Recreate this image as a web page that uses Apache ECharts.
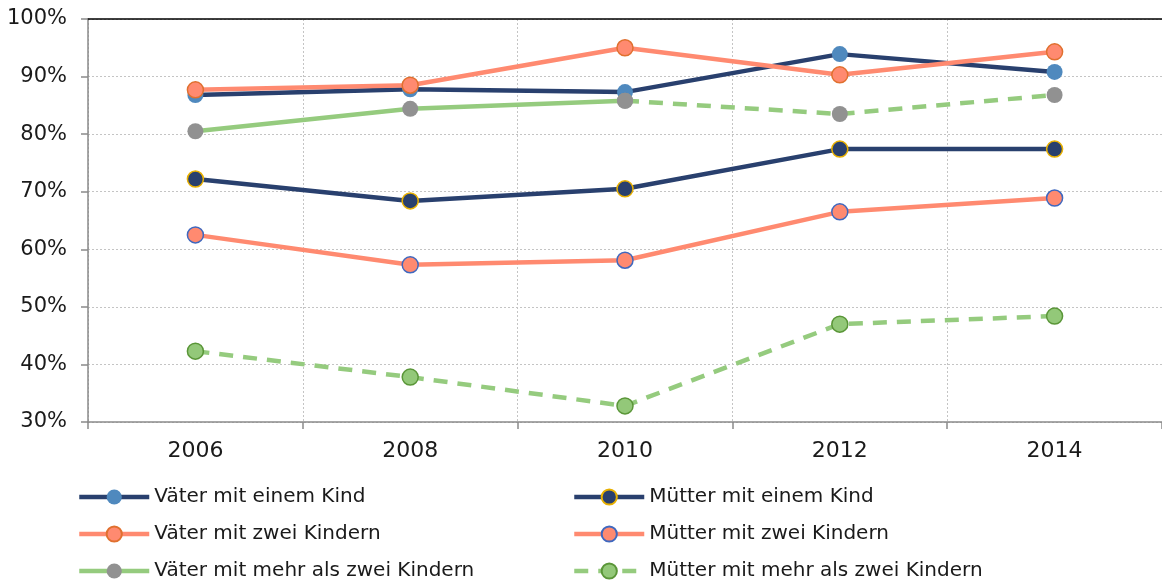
<!DOCTYPE html>
<html>
<head>
<meta charset="utf-8">
<script src="https://cdn.jsdelivr.net/npm/echarts@6/dist/echarts.min.js"></script>
<style>html,body{margin:0;padding:0;background:#fff}#c{width:1162px;height:583px}</style>
</head>
<body>
<div id="c"></div>
<script>
var years = ['2006', '2008', '2010', '2012', '2014'];
var yTicks = [30, 40, 50, 60, 70, 80, 90, 100];
var vaterEins = [86.8, 87.8, 87.3, 93.9, 90.8];
var vaterZwei = [87.7, 88.5, 95.0, 90.3, 94.3];
var vaterMehrSolid = [80.5, 84.4, 85.8, '-', '-'];
var vaterMehrDashed = ['-', '-', 85.8, 83.5, 86.8];
var mutterEins = [72.2, 68.4, 70.5, 77.4, 77.4];
var mutterZwei = [62.5, 57.3, 58.1, 66.5, 68.9];
var mutterMehr = [42.3, 37.8, 32.8, 47.0, 48.4];
var names = ['Väter mit einem Kind', 'Väter mit zwei Kindern', 'Väter mit mehr als zwei Kindern',
             'Mütter mit einem Kind', 'Mütter mit zwei Kindern', 'Mütter mit mehr als zwei Kindern'];

var NAVY = '#29406E', CORAL = '#FF8A70', GREEN = '#95CB7E';
function line(name, data, lineColor, fill, border, dashed) {
  return {
    name: name, type: 'line', data: data,
    symbol: 'circle', symbolSize: 16,
    lineStyle: {color: lineColor, width: 4.5, type: dashed ? [14, 10] : 'solid'},
    itemStyle: {color: fill, borderColor: border, borderWidth: border === fill ? 0 : 1.5},
    emphasis: {disabled: true},
    animation: false
  };
}
var chart = echarts.init(document.getElementById('c'));
var legendText = {fontFamily: 'DejaVu Sans', fontSize: 20, color: '#1a1a1a', lineHeight: 20};
var legendCommon = {orient: 'vertical', top: 487, padding: 0, itemWidth: 70, itemHeight: 19, itemGap: 17,
                    textStyle: legendText, selectedMode: false, lineStyle: {width: 4.5}};
chart.setOption({
  backgroundColor: '#fff',
  grid: {left: 88, top: 19, right: 0, height: 403},
  legend: [
    Object.assign({left: 77, data: names.slice(0, 3)}, legendCommon),
    Object.assign({left: 572, data: names.slice(3)}, legendCommon)
  ],
  xAxis: [{
    type: 'category', data: years, boundaryGap: true,
    axisLine: {lineStyle: {color: '#8a8a8a', width: 1.5}},
    axisTick: {show: true, length: 7, lineStyle: {color: '#8a8a8a', width: 1.5}},
    axisLabel: {fontFamily: 'DejaVu Sans', fontSize: 22, color: '#1a1a1a', margin: 18},
    splitLine: {show: true, lineStyle: {color: '#c4c4c4', type: [2, 2], width: 1}}
  }, {
    type: 'category', data: years, position: 'top',
    axisLine: {lineStyle: {color: '#000', width: 1.5}},
    axisTick: {show: false}, axisLabel: {show: false}, splitLine: {show: false}
  }],
  yAxis: {
    type: 'value', min: yTicks[0], max: yTicks[yTicks.length - 1], interval: 10,
    axisLine: {show: true, lineStyle: {color: '#8a8a8a', width: 1.5}},
    axisTick: {show: true, length: 7, lineStyle: {color: '#8a8a8a', width: 1.5}},
    axisLabel: {fontFamily: 'DejaVu Sans', fontSize: 21, color: '#1a1a1a', margin: 21,
                formatter: function (v) { return v + '%'; }},
    splitLine: {show: true, lineStyle: {color: '#c4c4c4', type: [2, 2], width: 1}}
  },
  series: [
    line(names[0], vaterEins, NAVY, '#4F89BE', '#4F89BE', false),
    line(names[1], vaterZwei, CORAL, CORAL, '#E0702F', false),
    line(names[2], vaterMehrSolid, GREEN, '#919191', '#919191', false),
    line(names[2], vaterMehrDashed, GREEN, '#919191', '#919191', true),
    line(names[3], mutterEins, NAVY, NAVY, '#E8B000', false),
    line(names[4], mutterZwei, CORAL, CORAL, '#3F68BF', false),
    line(names[5], mutterMehr, GREEN, '#93C879', '#5A9638', true)
  ]
});
</script>
</body>
</html>
